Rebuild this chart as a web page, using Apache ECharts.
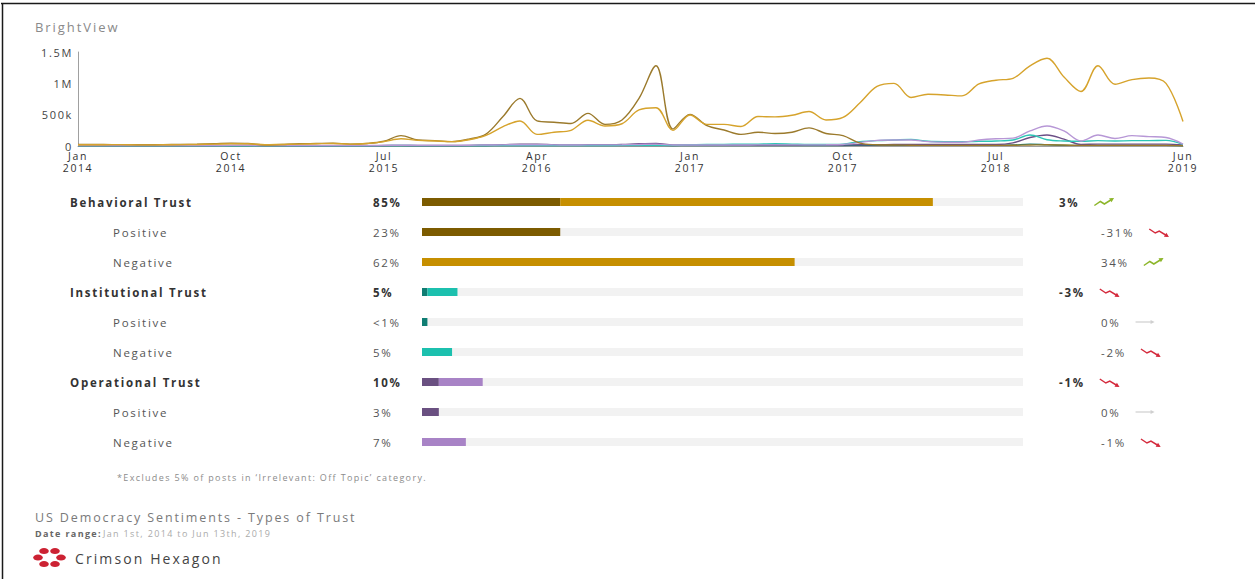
<!DOCTYPE html>
<html>
<head>
<meta charset="utf-8">
<script src="https://cdn.jsdelivr.net/npm/echarts@6.0.0/dist/echarts.min.js"></script>
<style>
html,body{margin:0;padding:0;background:#fff;}
#main{width:1255px;height:579px;}
#main text{letter-spacing:0.15em;}
</style>
</head>
<body>
<div id="main"></div>
<script>
// ---------- line chart data (values in thousands of posts) ----------
const months = [
'2014-01','2014-02','2014-03','2014-04','2014-05','2014-06','2014-07','2014-08','2014-09','2014-10','2014-11','2014-12',
'2015-01','2015-02','2015-03','2015-04','2015-05','2015-06','2015-07','2015-08','2015-09','2015-10','2015-11','2015-12',
'2016-01','2016-02','2016-03','2016-04','2016-05','2016-06','2016-07','2016-08','2016-09','2016-10','2016-11','2016-12',
'2017-01','2017-02','2017-03','2017-04','2017-05','2017-06','2017-07','2017-08','2017-09','2017-10','2017-11','2017-12',
'2018-01','2018-02','2018-03','2018-04','2018-05','2018-06','2018-07','2018-08','2018-09','2018-10','2018-11','2018-12',
'2019-01','2019-02','2019-03','2019-04','2019-05','2019-06'];

const tickMonths = ['2014-01','2014-10','2015-07','2016-04','2017-01','2017-10','2018-07','2019-06'];
const tickLabels = ['Jan\n2014','Oct\n2014','Jul\n2015','Apr\n2016','Jan\n2017','Oct\n2017','Jul\n2018','Jun\n2019'];

const behavioralPositive = [
25,25,22,22,20,22,25,28,35,45,40,15,
25,35,40,45,30,40,75,165,95,85,70,110,
190,470,760,400,380,360,520,345,415,760,1280,270,
505,325,255,185,220,200,220,290,200,165,45,20,
15,12,10,10,10,10,10,12,15,20,15,10,
10,10,10,10,10,5];
const behavioralNegative = [
20,20,22,20,18,20,22,25,30,35,35,20,
25,30,35,40,30,40,70,115,90,80,70,100,
170,310,400,185,220,250,410,320,355,575,610,250,
495,345,345,310,470,465,490,550,415,455,690,950,
1000,775,825,815,800,990,1050,1080,1280,1400,1100,870,
1280,985,1060,1085,1000,390];
const institutionalPositive = [
3,3,3,3,3,3,3,3,3,3,3,3,
3,3,3,3,3,3,4,5,4,4,4,5,
5,6,8,6,6,6,6,6,6,8,8,5,
6,6,6,6,6,6,6,6,6,8,10,10,
10,10,10,10,10,10,10,15,30,20,10,10,
10,10,10,10,10,5];
const institutionalNegative = [
5,5,5,5,5,5,5,5,5,5,5,5,
5,5,5,5,5,5,6,8,6,6,6,6,
8,8,8,8,8,8,8,8,10,10,10,10,
20,25,25,30,30,35,30,25,25,30,70,85,
95,105,75,70,70,75,80,95,175,100,80,75,
85,80,85,85,90,25];
const operationalPositive = [
5,5,5,5,5,5,5,5,5,8,8,5,
5,5,5,5,5,5,8,10,8,8,8,10,
15,20,30,30,20,15,20,20,25,35,40,15,
15,15,15,15,15,15,15,15,15,15,20,20,
25,25,25,25,25,25,25,50,135,175,110,25,
30,30,30,30,30,15];
const operationalNegative = [
8,8,8,8,8,8,8,8,8,10,10,8,
8,8,8,8,8,8,10,12,10,10,10,12,
15,18,20,20,18,15,18,18,20,25,30,15,
15,15,15,15,18,18,18,18,20,25,55,90,
95,95,70,60,60,95,115,125,240,320,240,80,
175,120,165,150,135,30];

// ---------- table data ----------
const groupNames = ['Behavioral Trust','Institutional Trust','Operational Trust'];
const positiveShare = [23, 0.9, 2.8];
const negativeShare = [62, 5.0, 7.3];
const totalLabel = ['85%','5%','10%'];
const positiveLabel = ['23%','<1%','3%'];
const negativeLabel = ['62%','5%','7%'];
const totalChange = [3, -3, -1];
const positiveChange = [-31, 0, 0];
const negativeChange = [34, -2, -1];

// ---------- styles ----------
const FONT = '"Open Sans", sans-serif';
const LS = 0.15; // letter spacing in em (matches CSS)
const darkColors = ['#7c5b00','#107d73','#6a5081'];
const lightColors = ['#c68f00','#1cc0ae','#a883c6'];
const lineColors = {
  bp:'#9b7a2c', bn:'#d6a32c', ip:'#137c72', in:'#2cc6b6', op:'#6b4f86', on:'#b797d6'
};

const rows = [];
groupNames.forEach((g, k) => {
  rows.push({name:g, main:true, pct:totalLabel[k], pos:positiveShare[k], neg:negativeShare[k], chg:totalChange[k], k});
  rows.push({name:'Positive', main:false, pct:positiveLabel[k], pos:positiveShare[k], neg:0, chg:positiveChange[k], k});
  rows.push({name:'Negative', main:false, pct:negativeLabel[k], pos:0, neg:negativeShare[k], chg:negativeChange[k], k});
});
const rowIds = rows.map((r, i) => 'row' + i);

const mctx = document.createElement('canvas').getContext('2d');
function textWidth(t, weight, size) {
  mctx.font = weight + ' ' + size + 'px "Open Sans"';
  return mctx.measureText(t).width + LS * size * t.length;
}

function trendIcon(x, y, dir) {
  let pts, color, lw = 1.5, hl = 4.5, hw = 2.3;
  if (dir > 0) { color = '#8db62b'; pts = [[x, y + 3.5], [x + 6, y - 0.5], [x + 10, y + 2], [x + 18, y - 3]]; }
  else if (dir < 0) { color = '#d42a3c'; pts = [[x, y - 3], [x + 6, y + 1], [x + 10, y - 1], [x + 18, y + 4]]; }
  else { color = '#cfcfcf'; pts = [[x, y], [x + 17, y]]; lw = 1.2; hl = 4; hw = 2; }
  const a = pts[pts.length - 2], b = pts[pts.length - 1];
  const dx = b[0] - a[0], dy = b[1] - a[1], L = Math.hypot(dx, dy), ux = dx / L, uy = dy / L;
  const tip = [b[0] + ux * 2, b[1] + uy * 2];
  const base = [tip[0] - ux * hl, tip[1] - uy * hl];
  const head = [tip, [base[0] - uy * hw, base[1] + ux * hw], [base[0] + uy * hw, base[1] - ux * hw]];
  return [
    {type:'polyline', shape:{points:pts}, style:{stroke:color, lineWidth:lw, fill:null}},
    {type:'polygon', shape:{points:head}, style:{fill:color}}
  ];
}

function lineSeries(name, data, color, z) {
  return {
    type:'line', name, data, xAxisIndex:0, yAxisIndex:0,
    smooth:0.35, symbol:'none', z,
    lineStyle:{width:1.4, color}, itemStyle:{color}
  };
}

const nameRich = {
  m:{fontFamily:FONT, fontWeight:'bold', fontSize:11.5, color:'#333'},
  s:{fontFamily:FONT, fontSize:11.5, color:'#555', padding:[0,0,0,43]}
};
const pctRich = {
  m:{fontFamily:FONT, fontWeight:'bold', fontSize:11.5, color:'#333'},
  s:{fontFamily:FONT, fontSize:11.5, color:'#555'}
};

const dateLabelWidth = textWidth('Date range:', 'bold', 9);

const chart = echarts.init(document.getElementById('main'), null, {renderer:'svg', width:1255, height:579});

const option = {
  animation:false,
  backgroundColor:'#fff',
  textStyle:{fontFamily:FONT},
  grid:[
    {left:78, right:72, top:52, height:94},
    {left:422, right:232, top:187, height:270}
  ],
  xAxis:[
    {
      gridIndex:0, type:'category', data:months, boundaryGap:false,
      axisLine:{lineStyle:{color:'#a0a0a0', width:1}},
      axisTick:{show:false},
      splitLine:{show:false},
      axisLabel:{
        interval:(i, v) => tickMonths.indexOf(v) >= 0,
        formatter:(v) => { const k = tickMonths.indexOf(v); return k >= 0 ? tickLabels[k] : ''; },
        color:'#333', fontSize:10.5, lineHeight:12, margin:4, fontFamily:FONT
      }
    },
    {gridIndex:1, type:'value', min:0, max:100, show:false}
  ],
  yAxis:[
    {
      gridIndex:0, type:'value', min:0, max:1500, interval:500,
      axisLine:{show:true, lineStyle:{color:'#a0a0a0', width:1}},
      axisTick:{show:false}, splitLine:{show:false},
      axisLabel:{
        color:'#444', fontSize:11, margin:5, fontFamily:FONT, lineHeight:10,
        formatter:(v) => v === 0 ? '0' : (v < 1000 ? v + 'k' : (v / 1000) + 'M')
      }
    },
    {
      gridIndex:1, type:'category', inverse:true, data:rowIds, position:'left',
      axisLine:{show:false}, axisTick:{show:false}, splitLine:{show:false},
      axisLabel:{
        interval:0, margin:352, align:'left',
        formatter:(v, i) => rows[i].main ? '{m|' + rows[i].name + '}' : '{s|' + rows[i].name + '}',
        rich:nameRich
      }
    },
    {
      gridIndex:1, type:'category', inverse:true, data:rowIds, position:'left',
      axisLine:{show:false}, axisTick:{show:false}, splitLine:{show:false},
      axisLabel:{
        interval:0, margin:49, align:'left',
        formatter:(v, i) => rows[i].main ? '{m|' + rows[i].pct + '}' : '{s|' + rows[i].pct + '}',
        rich:pctRich
      }
    }
  ],
  series:[
    lineSeries('Institutional Positive', institutionalPositive, lineColors.ip, 2),
    lineSeries('Operational Positive', operationalPositive, lineColors.op, 3),
    lineSeries('Institutional Negative', institutionalNegative, lineColors.in, 4),
    lineSeries('Operational Negative', operationalNegative, lineColors.on, 5),
    lineSeries('Behavioral Positive', behavioralPositive, lineColors.bp, 6),
    lineSeries('Behavioral Negative', behavioralNegative, lineColors.bn, 7),
    {
      type:'bar', name:'track', xAxisIndex:1, yAxisIndex:1, silent:true,
      data:rows.map(() => 100), barWidth:8, barGap:'-100%', z:1,
      itemStyle:{color:'#f2f2f2'}
    },
    {
      type:'bar', name:'Positive share', xAxisIndex:1, yAxisIndex:1, stack:'share',
      data:rows.map(r => ({value:r.pos, itemStyle:{color:darkColors[r.k]}})),
      barWidth:8, barGap:'-100%', z:2
    },
    {
      type:'bar', name:'Negative share', xAxisIndex:1, yAxisIndex:1, stack:'share',
      data:rows.map(r => ({value:r.neg, itemStyle:{color:lightColors[r.k]}})),
      barWidth:8, barGap:'-100%', z:2
    },
    {
      type:'custom', name:'change', xAxisIndex:1, yAxisIndex:1, silent:true, z:5,
      data:rows.map((r, i) => [100, i, r.chg]),
      renderItem:(params, api) => {
        const r = rows[params.dataIndex];
        const p = api.coord([100, params.dataIndex]);
        const xText = p[0] + (r.main ? 36 : 78);
        const y = p[1];
        const txt = r.chg + '%';
        const weight = r.main ? 'bold' : 'normal';
        const w = textWidth(txt, weight, 11.5);
        const ix = xText + w + 15;
        return {
          type:'group',
          children:[
            {type:'text', style:{x:xText, y:y, text:txt, font:weight + ' 11.5px ' + FONT,
              fill:r.main ? '#333' : '#555', align:'left', verticalAlign:'middle',
              textAlign:'left', textVerticalAlign:'middle'}}
          ].concat(trendIcon(ix, y, r.chg))
        };
      }
    }
  ],
  graphic:[
    {type:'line', silent:true, shape:{x1:1, y1:3.5, x2:1255, y2:3.5}, style:{stroke:'#1a1a1a', lineWidth:1.5}},
    {type:'line', silent:true, shape:{x1:2.5, y1:3, x2:2.5, y2:579}, style:{stroke:'#1a1a1a', lineWidth:1.5}},
    {type:'text', x:35, y:27, style:{text:'BrightView', font:'13px ' + FONT, fill:'#8a8a8a',
      textVerticalAlign:'middle', verticalAlign:'middle'}},
    {type:'text', x:117, y:477, style:{text:'*Excludes 5% of posts in \u2018Irrelevant: Off Topic\u2019 category.',
      font:'9px ' + FONT, fill:'#8c8c8c', textVerticalAlign:'middle', verticalAlign:'middle'}},
    {type:'text', x:35, y:517, style:{text:'US Democracy Sentiments - Types of Trust', font:'12.5px ' + FONT,
      fill:'#7a7a7a', textVerticalAlign:'middle', verticalAlign:'middle'}},
    {type:'text', x:35, y:533, style:{text:'Date range:', font:'bold 9px ' + FONT, fill:'#666',
      textVerticalAlign:'middle', verticalAlign:'middle'}},
    {type:'text', x:35 + dateLabelWidth + 1, y:533, style:{text:'Jan 1st, 2014 to Jun 13th, 2019', font:'9px ' + FONT, fill:'#aaa',
      textVerticalAlign:'middle', verticalAlign:'middle'}},
    {type:'ellipse', silent:true, shape:{cx:44, cy:551, rx:4.8, ry:3.1}, style:{fill:'#cc2233'}},
    {type:'ellipse', silent:true, shape:{cx:55, cy:551, rx:4.8, ry:3.1}, style:{fill:'#cc2233'}},
    {type:'ellipse', silent:true, shape:{cx:38, cy:557.5, rx:4.8, ry:3.1}, style:{fill:'#cc2233'}},
    {type:'ellipse', silent:true, shape:{cx:61, cy:557.5, rx:4.8, ry:3.1}, style:{fill:'#cc2233'}},
    {type:'ellipse', silent:true, shape:{cx:44, cy:564, rx:4.8, ry:3.1}, style:{fill:'#cc2233'}},
    {type:'ellipse', silent:true, shape:{cx:55, cy:564, rx:4.8, ry:3.1}, style:{fill:'#cc2233'}},
    {type:'text', x:75, y:558, style:{text:'Crimson Hexagon', font:'14px ' + FONT, fill:'#444',
      textVerticalAlign:'middle', verticalAlign:'middle'}}
  ]
};
chart.setOption(option);
</script>
</body>
</html>
